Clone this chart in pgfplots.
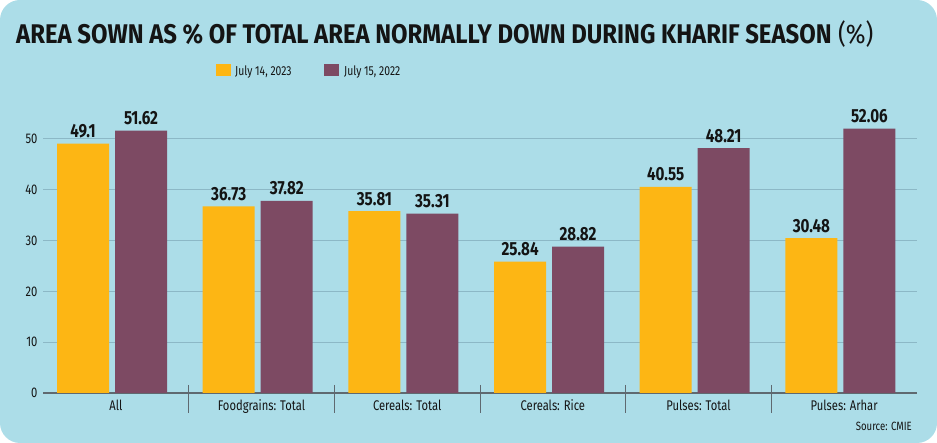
\documentclass[border=0pt]{standalone}
\usepackage{pgfplots}
\pgfplotsset{compat=1.18}
\usepackage{fontspec}
\setmainfont[FakeStretch=0.8]{Fira Sans}
\newfontfamily\titlefont[FakeStretch=0.885]{Fira Sans}
\newfontfamily\numfont[FakeStretch=0.8]{Fira Sans}

\definecolor{panel}{RGB}{172,221,232}
\definecolor{yearA}{RGB}{253,182,20}
\definecolor{yearB}{RGB}{125,74,99}
\definecolor{gridc}{RGB}{140,184,198}
\definecolor{axisc}{RGB}{95,105,112}
\definecolor{txt}{RGB}{20,20,20}

\begin{document}
\begin{tikzpicture}[x=1bp,y=1bp]
% card background
\fill[white] (0,0) rectangle (937,443);
\fill[panel, rounded corners=20bp] (0,0) rectangle (937,443);

% heading
\node[anchor=base west, inner sep=0pt, text=txt] at (16,399)
  {\titlefont\fontsize{27bp}{30bp}\selectfont\bfseries AREA SOWN AS \% OF TOTAL AREA NORMALLY DOWN DURING KHARIF SEASON\mdseries\ (\%)};

% legend
\fill[yearA] (216,367) rectangle (231,379);
\node[anchor=base west, inner sep=0pt, text=txt] at (235,367)
  {\fontsize{13bp}{15bp}\selectfont July 14, 2023};
\fill[yearB] (324,367) rectangle (339,379);
\node[anchor=base west, inner sep=0pt, text=txt] at (344,367)
  {\fontsize{13bp}{15bp}\selectfont July 15, 2022};

% source note
\node[anchor=base east, inner sep=0pt, text=txt] at (912,12)
  {\fontsize{12bp}{14bp}\selectfont Source: CMIE};

\begin{axis}[
  at={(43bp,50bp)}, anchor=south west,
  scale only axis, width=874bp, height=284.5bp,
  xmin=-0.5, xmax=5.5, ymin=0, ymax=56,
  axis x line*=bottom, axis y line*=left,
  x axis line style={draw=axisc, line width=1.2bp, -},
  y axis line style={draw=none},
  major tick length=0pt,
  ymajorgrids, grid style={draw=gridc, line width=1bp},
  ytick={0,10,20,30,40,50},
  /pgf/number format/assume math mode=true,
  yticklabel style={font=\numfont\fontsize{14bp}{16bp}\selectfont, text=txt, xshift=-2bp},
  xtick={0,1,2,3,4,5},
  xticklabels={All, Foodgrains: Total, Cereals: Total, Cereals: Rice, Pulses: Total, Pulses: Arhar},
  xticklabel style={font=\fontsize{14bp}{16bp}\selectfont, text=txt, anchor=base, yshift=-18bp},
  bar width=0.357,
  point meta=explicit symbolic,
  nodes near coords,
  every node near coord/.style={font=\numfont\fontsize{19bp}{21bp}\selectfont\bfseries, text=txt, anchor=base, inner sep=0pt, yshift=6bp},
  clip=false,
]
% July 14, 2023
\addplot[ybar, bar shift=0pt, fill=yearA, draw=none] coordinates {
  (-0.225,49.1)  [49.1]
  (0.775,36.73)  [36.73]
  (1.775,35.81)  [35.81]
  (2.775,25.84)  [25.84]
  (3.775,40.55)  [40.55]
  (4.775,30.48)  [30.48]
};
% July 15, 2022
\addplot[ybar, bar shift=0pt, fill=yearB, draw=none] coordinates {
  (0.173,51.62)  [51.62]
  (1.173,37.82)  [37.82]
  (2.173,35.31)  [35.31]
  (3.173,28.82)  [28.82]
  (4.173,48.21)  [48.21]
  (5.173,52.06)  [52.06]
};
% category separators
\foreach \s in {0.5,1.5,2.5,3.5,4.5} {
  \edef\tmp{\noexpand\draw[axisc, line width=1bp] ([yshift=8bp]axis cs:\s,0) -- ([yshift=-20bp]axis cs:\s,0);}
  \tmp
}
\end{axis}
\end{tikzpicture}
\end{document}
